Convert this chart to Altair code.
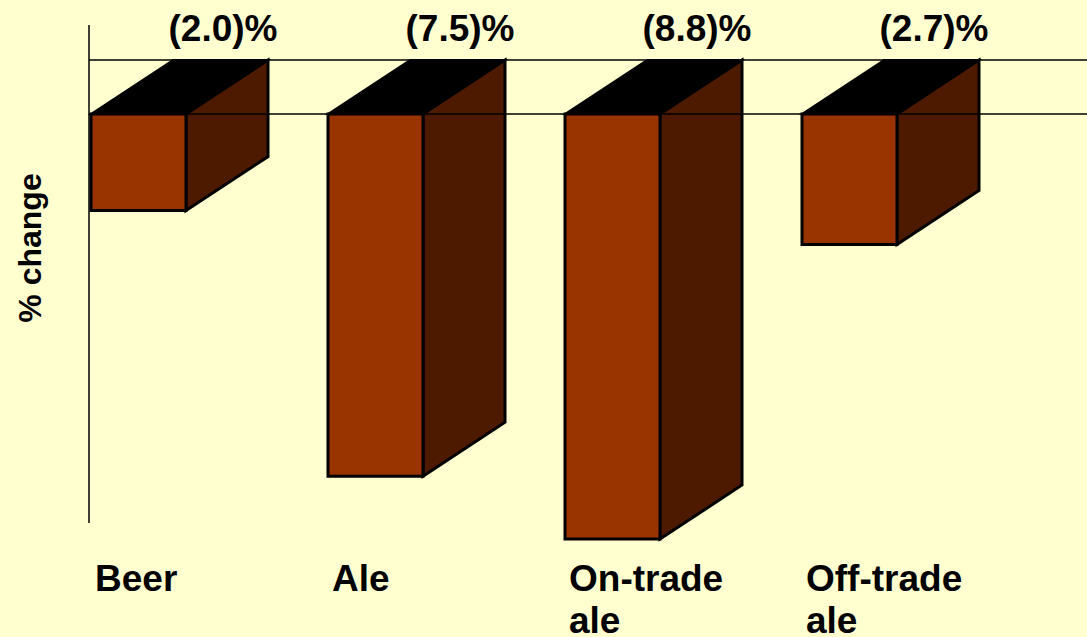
import altair as alt
import pandas as pd

categories = ["Beer", "Ale", "On-trade\nale", "Off-trade\nale"]
values = [-2.0, -7.5, -8.8, -2.7]
value_labels = ["(2.0)%", "(7.5)%", "(8.8)%", "(2.7)%"]

W, H = 1087, 637
PX_PER_UNIT = 48.3
ZERO_PX = 114
Y_TOP = ZERO_PX / PX_PER_UNIT
Y_BOT = -(H - ZERO_PX) / PX_PER_UNIT

X_START, X_STEP, BAR_W = 91, 237, 95
DX = 82
DY = 54 / PX_PER_UNIT

FRONT = "#993300"
SIDE = "#4D1A00"
BG = "#FFFFD0"

rows_front, rows_side, rows_top, rows_lab = [], [], [], []
for i, (c, v, lab) in enumerate(zip(categories, values, value_labels)):
    x0 = X_START + i * X_STEP
    x1 = x0 + BAR_W
    rows_front.append({"cat": c, "x0": x0, "x1": x1, "v": v, "z": 0.0})
    rows_side.append({"cat": c, "x": x1, "ytop": 0.0, "ybot": v})
    rows_side.append({"cat": c, "x": x1 + DX, "ytop": DY, "ybot": v + DY})
    rows_top.append({"cat": c, "y": 0.0, "xa": x0, "xb": x1})
    rows_top.append({"cat": c, "y": DY, "xa": x0 + DX, "xb": x1 + DX})
    rows_lab.append({"cat": c, "lab": lab, "xl": x0 + 132, "xc": x0 + 4})

front = pd.DataFrame(rows_front)
side = pd.DataFrame(rows_side)
top = pd.DataFrame(rows_top)
labs = pd.DataFrame(rows_lab)
hlines = pd.DataFrame({"y": [0.0, DY], "xa": [89, 89], "xb": [W, W]})

xs = alt.Scale(domain=[0, W], nice=False, zero=False)
ys = alt.Scale(domain=[Y_BOT, Y_TOP], nice=False, zero=False)

vline = alt.Chart(pd.DataFrame({"a": [0]})).mark_rule(color="black", strokeWidth=1.5).encode(
    x=alt.value(89), y=alt.value(25), y2=alt.value(523))

h_rules = alt.Chart(hlines).mark_rule(color="black", strokeWidth=1.5).encode(
    x=alt.X("xa:Q", scale=xs, axis=None), x2="xb:Q",
    y=alt.Y("y:Q", scale=ys, axis=None))

top_face = alt.Chart(top).mark_area(orient="horizontal", color="black", stroke="black", strokeWidth=2).encode(
    y=alt.Y("y:Q", scale=ys, axis=None),
    x=alt.X("xa:Q", scale=xs, axis=None),
    x2="xb:Q",
    detail="cat:N",
)

side_face = alt.Chart(side).mark_area(fill=SIDE, stroke="black", strokeWidth=3).encode(
    x=alt.X("x:Q", scale=xs, axis=None),
    y=alt.Y("ybot:Q", scale=ys, axis=None),
    y2="ytop:Q",
    detail="cat:N",
)

front_face = alt.Chart(front).mark_rect(fill=FRONT, stroke="black", strokeWidth=3).encode(
    x=alt.X("x0:Q", scale=xs, axis=None),
    x2="x1:Q",
    y=alt.Y("v:Q", scale=ys, axis=None),
    y2="z:Q",
)

val_text = alt.Chart(labs).mark_text(
    font="Liberation Sans", fontWeight="bold", fontSize=37, color="black",
    align="center", baseline="middle").encode(
    x=alt.X("xl:Q", scale=xs, axis=None),
    y=alt.value(30),
    text="lab:N",
)

cat_text = alt.Chart(labs).mark_text(
    font="Liberation Sans", fontWeight="bold", fontSize=37, color="black",
    align="left", baseline="middle", lineBreak="\n", lineHeight=42).encode(
    x=alt.X("xc:Q", scale=xs, axis=None),
    y=alt.value(580),
    text="cat:N",
)

ytitle = alt.Chart(pd.DataFrame({"t": ["% change"]})).mark_text(
    font="Liberation Sans", fontWeight="bold", fontSize=32, color="black",
    angle=270, align="center", baseline="middle").encode(
    x=alt.value(31), y=alt.value(248), text="t:N")

chart = alt.layer(
    vline, top_face, side_face, front_face, h_rules, val_text, cat_text, ytitle
).properties(
    width=W, height=H, background=BG, padding=0,
    autosize=alt.AutoSizeParams(type="none"),
).configure_view(strokeWidth=0)

chart.save("out.html", embed_options={"renderer": "svg", "actions": False})
